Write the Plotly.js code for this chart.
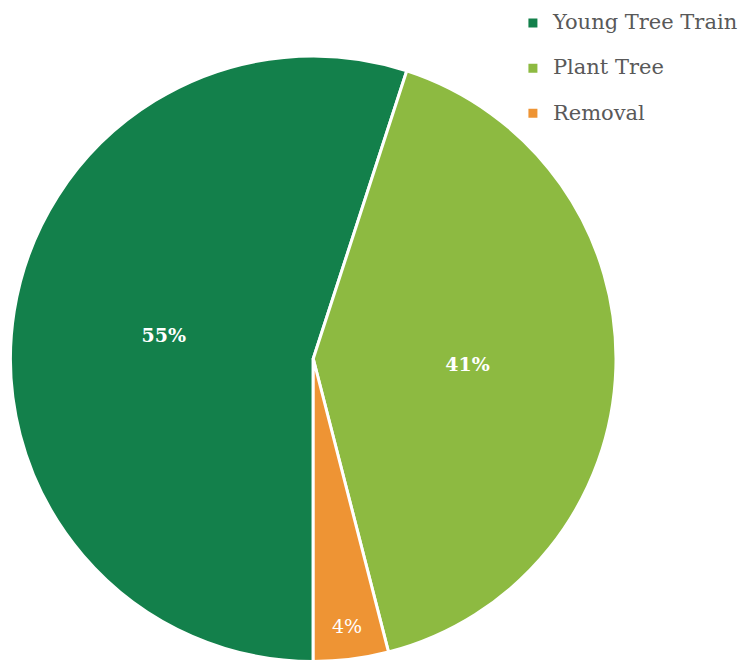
<!DOCTYPE html>
<html>
<head>
<meta charset="utf-8">
<script src="https://cdn.plot.ly/plotly-3.0.1.min.js"></script>
<style>html,body{margin:0;padding:0;background:#fff;}#chart{width:744px;height:662px;}</style>
</head>
<body>
<div id="chart"></div>
<script>
const categories = ["Young Tree Train", "Plant Tree", "Removal"];
const shares = [55, 41, 4];
const sliceColors = ["#13804B", "#8DBA41", "#EE9434"];
const labelBold = [true, true, false];

const legendLabels = categories.map(c => '<span style="font-size:21px">' + c + '</span><br> ');
const templates = labelBold.map(b => b ? '<b>%{percent}</b>' : '%{percent}');

const trace = {
  type: 'pie',
  labels: legendLabels,
  values: shares,
  sort: false,
  direction: 'clockwise',
  rotation: 180,
  marker: {colors: sliceColors, line: {color: '#ffffff', width: 3}},
  texttemplate: templates,
  textposition: 'inside',
  insidetextorientation: 'horizontal',
  insidetextfont: {family: 'DejaVu Serif', size: 19, color: '#ffffff'},
  hoverinfo: 'label+percent',
  domain: {x: [10.5/744, 618.5/744], y: [0, 606.5/662]}
};

const layout = {
  width: 744, height: 662,
  margin: {l: 0, r: 0, t: 0, b: 0},
  paper_bgcolor: '#ffffff',
  showlegend: true,
  legend: {
    x: 515/744, xanchor: 'left', y: 1 - 6/662, yanchor: 'top',
    font: {family: 'DejaVu Serif', size: 16.2, color: '#595959'},
    valign: 'top',
    bgcolor: 'rgba(0,0,0,0)'
  }
};

Plotly.newPlot('chart', [trace], layout, {displayModeBar: false, staticPlot: true});
</script>
</body>
</html>
